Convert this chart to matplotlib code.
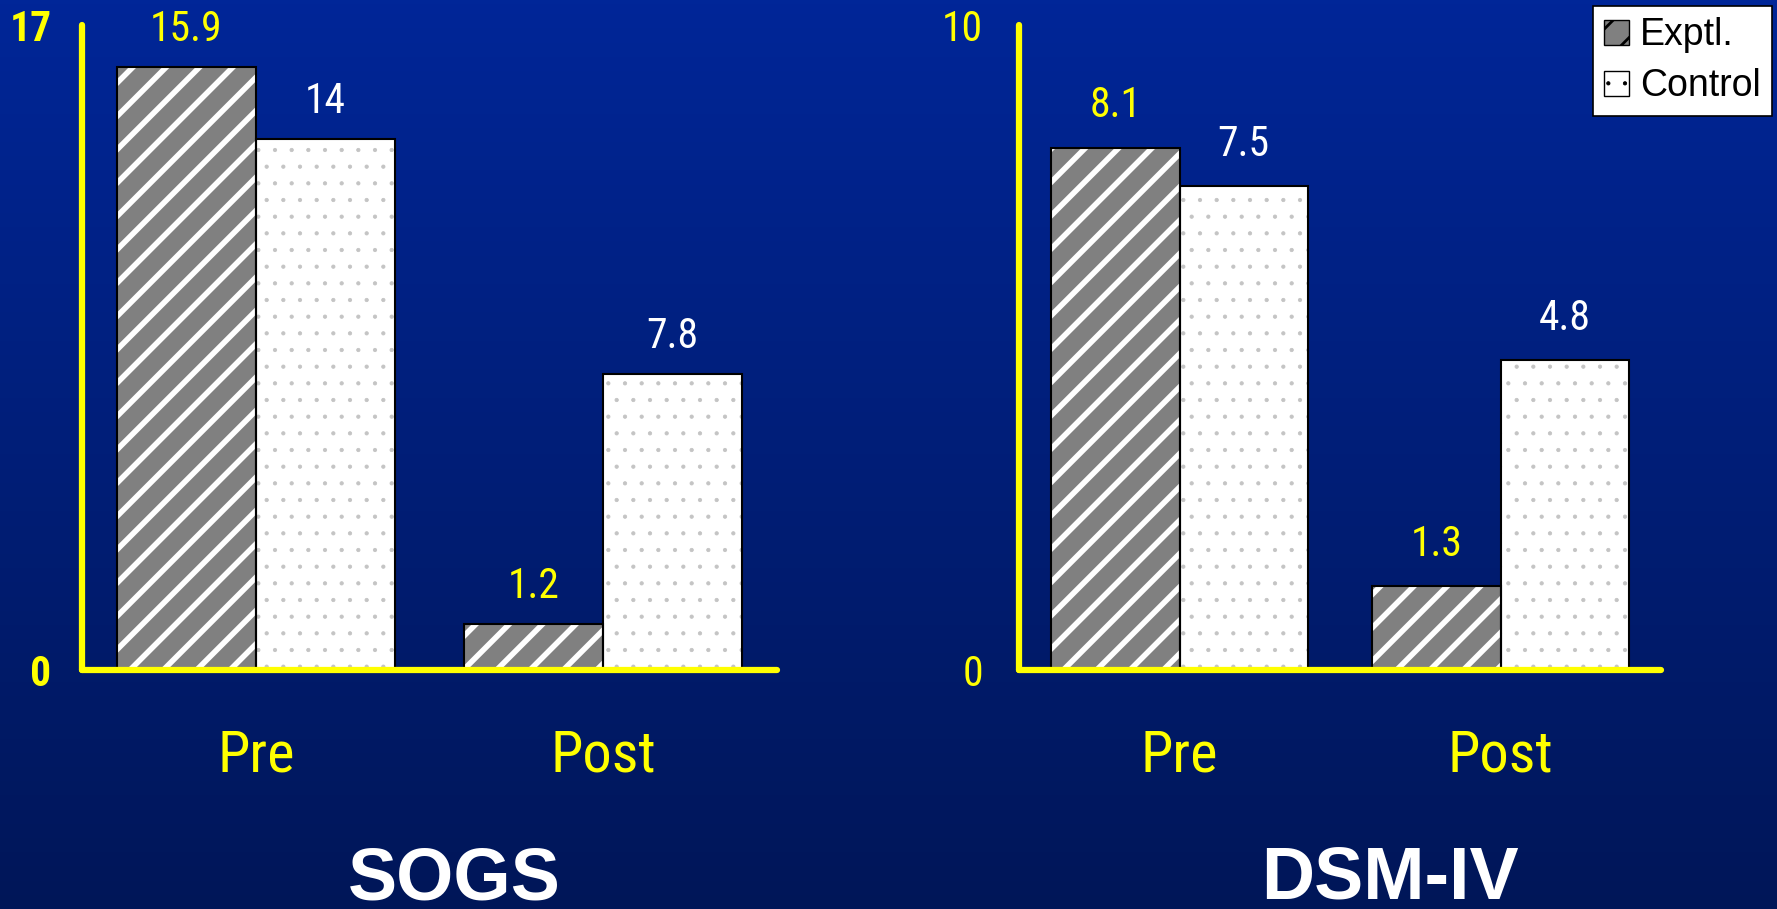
import numpy as np
import matplotlib
matplotlib.use("Agg")
import matplotlib.pyplot as plt
from matplotlib import font_manager as fm
from matplotlib.patches import Rectangle

# Data
groups = ["Pre", "Post"]
series = ["Exptl.", "Control"]
sogs_exptl = [15.9, 1.2]
sogs_control = [14, 7.8]
dsm_exptl = [8.1, 1.3]
dsm_control = [7.5, 4.8]
sogs_max = 17
dsm_max = 10

YELLOW = "#ffff00"

# pick a narrow sans face if one is installed
_fonts = fm.fontManager.ttflist
_names = {f.name for f in _fonts}
NARROW = {"family": ["DejaVu Sans"], "stretch": "normal"}
for cand in ["Liberation Sans Narrow", "Roboto Condensed", "Open Sans Condensed",
             "Noto Sans Condensed", "Arial Narrow"]:
    if cand in _names:
        NARROW = {"family": [cand, "DejaVu Sans"], "stretch": "normal"}
        break
else:
    for name in ["Roboto", "Noto Sans", "Open Sans", "DejaVu Sans"]:
        if any(f.name == name and f.stretch in ("condensed", "semi-condensed")
               for f in _fonts):
            NARROW = {"family": [name, "DejaVu Sans"], "stretch": "condensed"}
            break

STRIPE_LW = 4.0
DOT_LW = 0.6
plt.rcParams["hatch.linewidth"] = STRIPE_LW

fig = plt.figure(figsize=(17.77, 9.09), dpi=100)

# vertical blue gradient backdrop
bg = fig.add_axes([0, 0, 1, 1], zorder=-10)
top = np.array([0x00, 0x26, 0x98]) / 255
bot = np.array([0x00, 0x16, 0x58]) / 255
t = np.linspace(0, 1, 256)[:, None]
grad = (top[None, :] * (1 - t) + bot[None, :] * t)[:, None, :]
bg.imshow(grad, aspect="auto", extent=[0, 1, 0, 1])
bg.set_axis_off()


def set_hlw(patch, lw):
    if hasattr(patch, "set_hatch_linewidth"):
        patch.set_hatch_linewidth(lw)


def hatched_bars(ax, x, vals, face, hcolor, hatch, hlw):
    bars = ax.bar(x, vals, 0.4, color=face, edgecolor=hcolor, hatch=hatch,
                  linewidth=0, zorder=2)
    for b in bars:
        set_hlw(b, hlw)
    ax.bar(x, vals, 0.4, fill=False, edgecolor="black", linewidth=1.5, zorder=3)
    return bars


def label_font(size, weight="normal"):
    return dict(fontsize=size, fontweight=weight, family=NARROW["family"],
                fontstretch=NARROW["stretch"])


def panel(rect, exptl, control, ymax, bold_ticks, title, title_x, lab_off):
    ax = fig.add_axes(rect)
    ax.set_facecolor("none")
    x = np.arange(len(groups))
    xe = x - 0.2
    xc = x + 0.2
    hatched_bars(ax, xe, exptl, "#808080", "white", "/", STRIPE_LW)
    hatched_bars(ax, xc, control, "white", "#c4c4c4", ".", DOT_LW)

    for xi, v in zip(xe, exptl):
        ax.annotate(f"{v:g}", (xi, v), xytext=(0, lab_off), textcoords="offset points",
                    ha="center", va="center", color=YELLOW, **label_font(30))
    for xi, v in zip(xc, control):
        ax.annotate(f"{v:g}", (xi, v), xytext=(0, lab_off), textcoords="offset points",
                    ha="center", va="center", color="white", **label_font(30))

    ax.set_xlim(-0.5, 1.5)
    ax.set_ylim(0, ymax)
    for s in ("top", "right"):
        ax.spines[s].set_visible(False)
    for s in ("left", "bottom"):
        ax.spines[s].set_color(YELLOW)
        ax.spines[s].set_linewidth(4.5)
        ax.spines[s].set_capstyle("round")
        ax.spines[s].set_zorder(4)

    ax.set_yticks([0, ymax])
    ax.set_yticklabels(["0", str(ymax)], color=YELLOW,
                       **label_font(30, "bold" if bold_ticks else "normal"))
    ax.tick_params(axis="y", length=0, pad=22 if bold_ticks else 26)

    ax.set_xticks(x)
    ax.set_xticklabels(groups, color=YELLOW, **label_font(42))
    for lab in ax.get_xticklabels():
        lab.set_va("center")
    ax.tick_params(axis="x", length=0, pad=62)

    fig.text(title_x, 1 - 900 / 909, title, ha="center", va="baseline",
             color="white", fontsize=53, fontweight="bold",
             family=["Liberation Sans", "DejaVu Sans"])
    return ax


ax1 = panel([82 / 1777, 1 - 670 / 909, 695 / 1777, 645 / 909],
            sogs_exptl, sogs_control, sogs_max, True, "SOGS", 454 / 1777, 27)
ax2 = panel([1019 / 1777, 1 - 670 / 909, 642 / 1777, 645 / 909],
            dsm_exptl, dsm_control, dsm_max, False, "DSM-IV", 1390 / 1777, 30)

# legend
h1 = Rectangle((0, 0), 1, 1, facecolor="#808080", edgecolor="white", hatch="/")
h2 = Rectangle((0, 0), 1, 1, facecolor="white", edgecolor="#c4c4c4", hatch=".")
leg = fig.legend([h1, h2], series, loc="upper right",
                 bbox_to_anchor=(1772 / 1777, 1 - 6 / 909),
                 frameon=True, fancybox=False, framealpha=1,
                 handlelength=0.65, handleheight=0.65, handletextpad=0.3,
                 labelspacing=0.4, borderpad=0.3, borderaxespad=0,
                 prop={"family": "Liberation Sans", "size": 27})
leg.get_frame().set_edgecolor("black")
leg.get_frame().set_linewidth(1.2)
lp = leg.get_patches()
lp[0].set_linewidth(1.0)
lp[0].set_edgecolor("black")
set_hlw(lp[0], 2.0)
lp[1].set_linewidth(1.0)
lp[1].set_edgecolor("black")
set_hlw(lp[1], DOT_LW)

fig.savefig("out.png", dpi=100)
